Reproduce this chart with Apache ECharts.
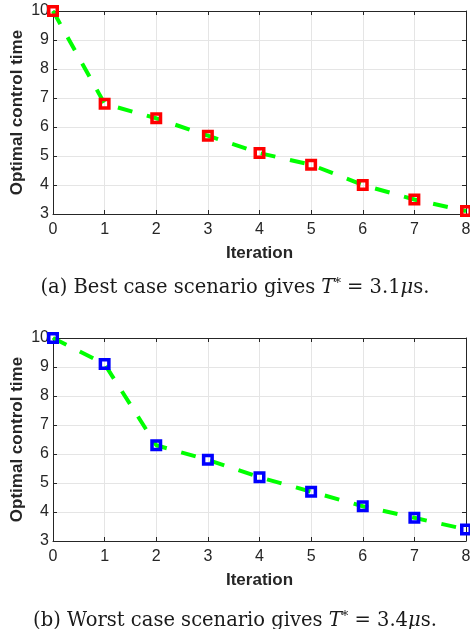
<!DOCTYPE html>
<html>
<head>
<meta charset="utf-8">
<script src="https://cdn.jsdelivr.net/npm/echarts@6/dist/echarts.min.js"></script>
<style>
  html, body { margin: 0; padding: 0; background: #fff; }
  #chart { width: 470px; height: 629px; }
</style>
</head>
<body>
<div id="chart"></div>
<script>
// data
const iterations = [0, 1, 2, 3, 4, 5, 6, 7, 8]
const bestCase = [10, 6.8, 6.3, 5.7, 5.1, 4.7, 4.0, 3.5, 3.1]
const worstCase = [10, 9.1, 6.3, 5.8, 5.2, 4.7, 4.2, 3.8, 3.4]
const yMin = 3
const yMax = 10
const xMin = 0
const xMax = 8
const captions = [
  '(a) Best case scenario gives {i|T}{sup|*} = 3.1{i|μ}s.',
  '(b) Worst case scenario gives {i|T}{sup|*} = 3.4{i|μ}s.'
]

const axisColor = '#262626'
const gridColor = '#e5e5e5'
const sans = '"Liberation Sans", Arial, sans-serif'
const serif = '"DejaVu Serif", "Liberation Serif", serif'

let myChart = echarts.init(document.getElementById('chart'))

function pairs(values) {
  return iterations.map((x, i) => [x, values[i]])
}

// bottom/left axes carry labels, top/right just mirror the ticks (box on)
function xAxes(gridIndex) {
  return [
    {
      type: 'value',
      gridIndex: gridIndex,
      min: xMin,
      max: xMax,
      interval: 1,
      name: 'Iteration',
      nameLocation: 'middle',
      nameGap: 31,
      nameMoveOverlap: false,
      nameTextStyle: { fontFamily: sans, fontWeight: 'bold', fontSize: 17, color: axisColor },
      axisLine: { onZero: false, lineStyle: { color: axisColor, width: 1 } },
      axisTick: { inside: true, length: 4, lineStyle: { color: axisColor } },
      axisLabel: { fontFamily: sans, fontSize: 16, color: axisColor, margin: 8 },
      splitLine: { show: true, lineStyle: { color: gridColor, width: 1 } }
    },
    {
      type: 'value',
      gridIndex: gridIndex,
      position: 'top',
      min: xMin,
      max: xMax,
      interval: 1,
      axisLine: { onZero: false, lineStyle: { color: axisColor, width: 1 } },
      axisTick: { inside: true, length: 4, lineStyle: { color: axisColor } },
      axisLabel: { show: false },
      splitLine: { show: false }
    }
  ]
}

function yAxes(gridIndex) {
  return [
    {
      type: 'value',
      gridIndex: gridIndex,
      min: yMin,
      max: yMax,
      interval: 1,
      name: 'Optimal control time',
      nameLocation: 'middle',
      nameGap: 27,
      nameMoveOverlap: false,
      nameTextStyle: { fontFamily: sans, fontWeight: 'bold', fontSize: 17, color: axisColor },
      axisLine: { show: true, onZero: false, lineStyle: { color: axisColor, width: 1 } },
      axisTick: { show: true, inside: true, length: 4, lineStyle: { color: axisColor } },
      axisLabel: { fontFamily: sans, fontSize: 16, color: axisColor, margin: 4 },
      splitLine: { show: true, lineStyle: { color: gridColor, width: 1 } }
    },
    {
      type: 'value',
      gridIndex: gridIndex,
      position: 'right',
      min: yMin,
      max: yMax,
      interval: 1,
      axisLine: { show: true, onZero: false, lineStyle: { color: axisColor, width: 1 } },
      axisTick: { show: true, inside: true, length: 4, lineStyle: { color: axisColor } },
      axisLabel: { show: false },
      splitLine: { show: false }
    }
  ]
}

function lineSeries(idx, values, markerColor) {
  return {
    type: 'line',
    xAxisIndex: idx * 2,
    yAxisIndex: idx * 2,
    data: pairs(values),
    symbol: 'rect',
    symbolSize: 8.5,
    clip: false,
    lineStyle: { color: '#00ff00', width: 4, type: [15, 15] },
    itemStyle: { color: 'transparent', borderColor: markerColor, borderWidth: 3.5 },
    emphasis: { disabled: true },
    z: 3
  }
}

function caption(text, top) {
  return {
    text: text,
    left: 'center',
    top: top,
    textStyle: {
      fontFamily: serif,
      fontWeight: 'normal',
      fontSize: 19.5,
      color: '#1a1a1a',
      rich: {
        i: { fontFamily: serif, fontStyle: 'italic', fontSize: 19.5, color: '#1a1a1a' },
        sup: { fontFamily: serif, fontSize: 13, verticalAlign: 'top', padding: [0, 0, 9, 0], color: '#1a1a1a' }
      }
    }
  }
}

let option = {
  backgroundColor: '#fff',
  animation: false,
  title: [caption(captions[0], 272), caption(captions[1], 605)],
  grid: [
    { left: 53, right: 4, top: 11, height: 203, outerBoundsMode: 'none' },
    { left: 53, right: 4, top: 338, height: 203, outerBoundsMode: 'none' }
  ],
  xAxis: xAxes(0).concat(xAxes(1)),
  yAxis: yAxes(0).concat(yAxes(1)),
  series: [
    lineSeries(0, bestCase, '#ff0000'),
    lineSeries(1, worstCase, '#0000ff')
  ]
}

myChart.setOption(option)
</script>
</body>
</html>
